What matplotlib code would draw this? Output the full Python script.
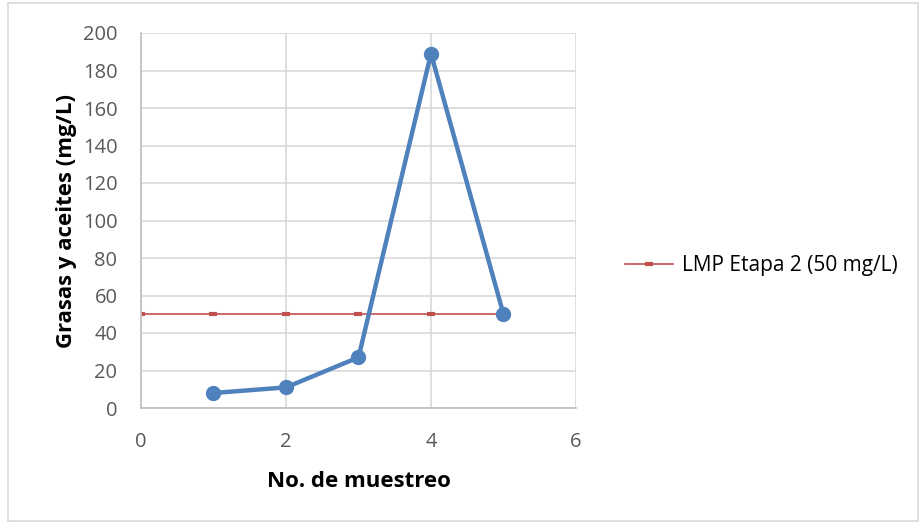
import matplotlib
matplotlib.use("Agg")
import matplotlib.pyplot as plt
from matplotlib.patches import Rectangle

muestreo = [1, 2, 3, 4, 5]
grasas = [8, 11, 27, 189, 50]
lmp_x = [0, 1, 2, 3, 4, 5]
lmp_y = [50, 50, 50, 50, 50, 50]
lmp_label = "LMP Etapa 2 (50 mg/L)"

plt.rcParams["font.family"] = ["Open Sans", "DejaVu Sans"]

fig = plt.figure(figsize=(9.2, 5.24), dpi=100)
fig.patches.append(Rectangle((8 / 920, 3 / 524), 910 / 920, 518 / 524, transform=fig.transFigure,
                             fill=False, edgecolor="#d9d9d9", linewidth=1.2))
ax = fig.add_axes([141 / 920, 116 / 524, 435 / 920, 375 / 524])

ax.plot(muestreo, grasas, color="#4f81bd", linewidth=3.2, marker="o", markersize=10, zorder=3)
ax.plot(lmp_x, lmp_y, color="#c0504d", linewidth=1.2, marker="_", markersize=6, markeredgewidth=3,
        label=lmp_label, zorder=2)

ax.set_xlim(0, 6)
ax.set_ylim(0, 200)
ax.set_xticks([0, 2, 4, 6])
ax.set_yticks(range(0, 201, 20))
ax.grid(True, color="#d9d9d9", linewidth=1.2)
ax.set_axisbelow(True)
for side in ["top", "right"]:
    ax.spines[side].set_visible(False)
for side in ["left", "bottom"]:
    ax.spines[side].set_color("#bfbfbf")
    ax.spines[side].set_linewidth(1.2)
ax.tick_params(length=0, labelsize=14.5, labelcolor="#595959", pad=17)

ax.set_xlabel("No. de muestreo", fontsize=16, fontweight="bold", labelpad=14)
ax.set_ylabel("Grasas y aceites (mg/L)", fontsize=16, fontweight="bold", labelpad=4)

ax.legend(loc="center left", bbox_to_anchor=(1.07, 0.38), frameon=False, fontsize=15,
          handlelength=2.3, handletextpad=0.45)

fig.savefig("out.png", dpi=100)
